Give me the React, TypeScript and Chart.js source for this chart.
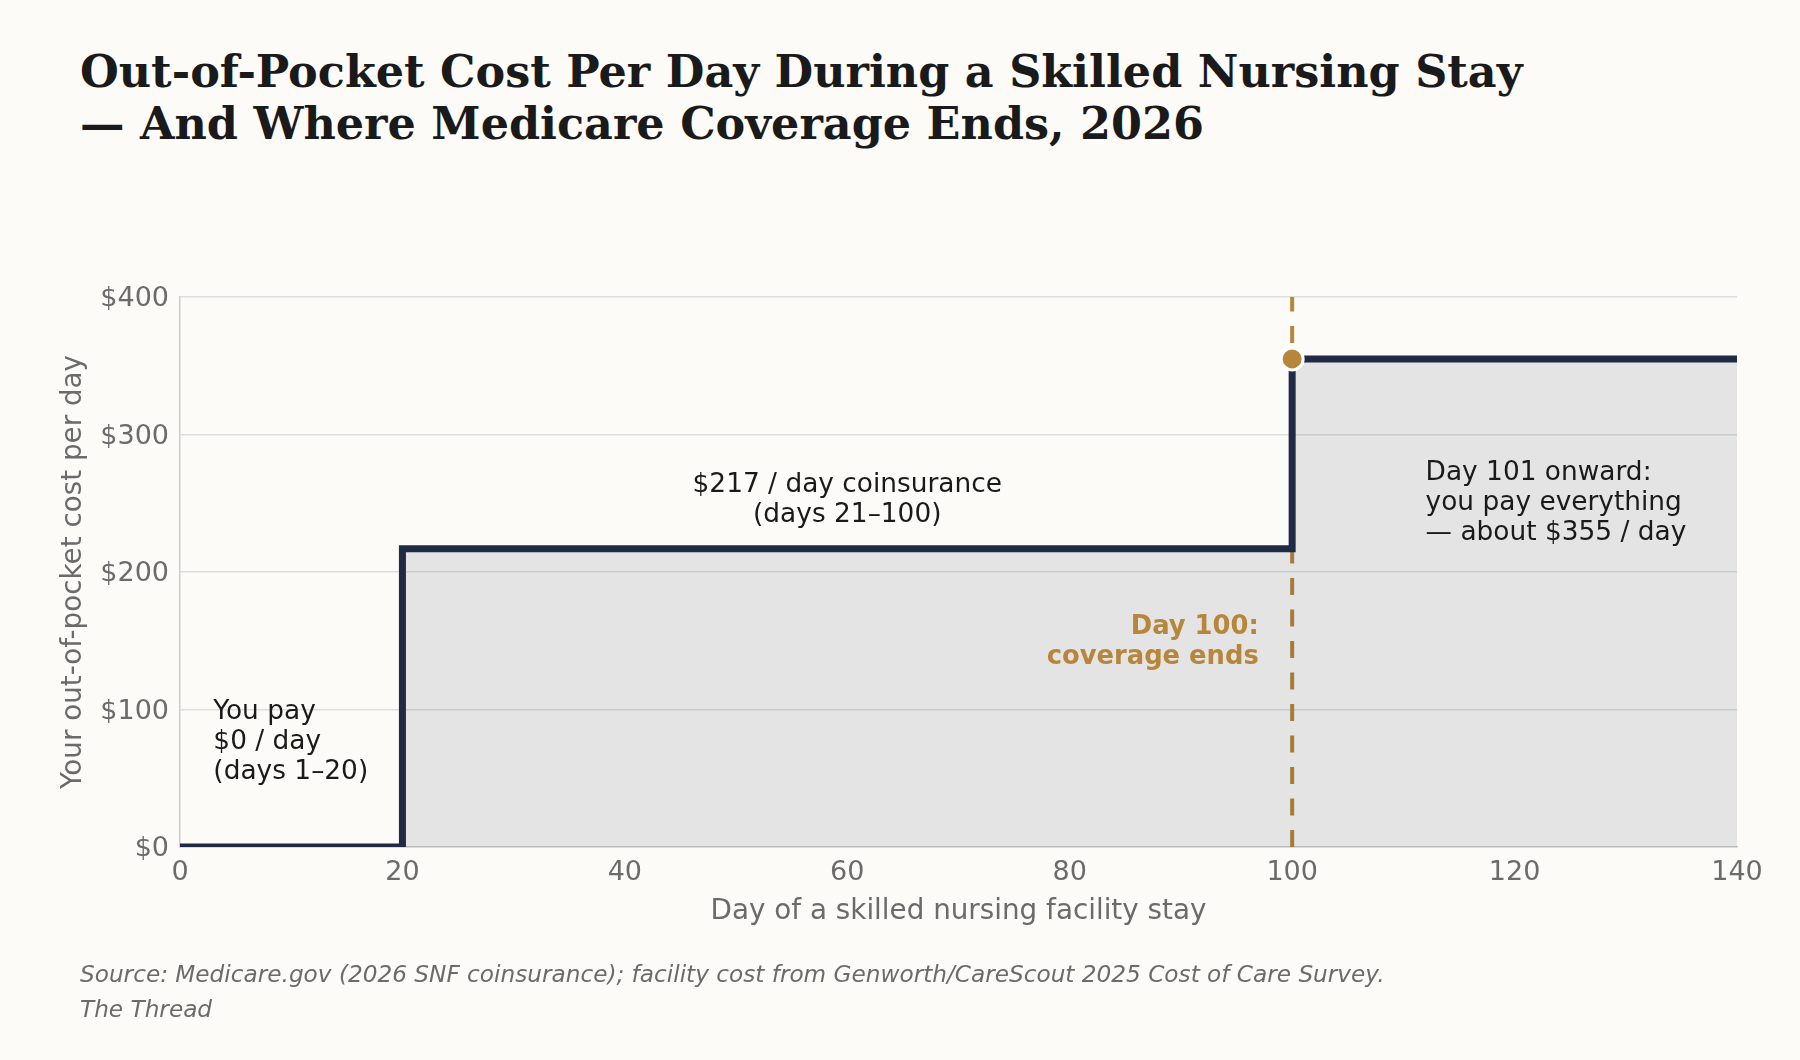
import { useEffect, useRef } from "react"
import { Chart, registerables } from "chart.js"

Chart.register(...registerables)

// step points: the cost changes at each listed day
const dayBreaks = [0, 20, 100, 140]
const costPerDay = [0, 217, 355, 355]
const coverageEndDay = 100
const coverageEndCost = 355
const xTicks = [0, 20, 40, 60, 80, 100, 120, 140]
const yTicks = [0, 100, 200, 300, 400]

const notes = [
  { day: 3, cost: 78, align: "left", lines: ["You pay", "$0 / day", "(days 1–20)"], color: "#1a1a1a", bold: false },
  { day: 60, cost: 254, align: "center", lines: ["$217 / day coinsurance", "(days 21–100)"], color: "#1a1a1a", bold: false },
  { day: 97, cost: 151, align: "right", lines: ["Day 100:", "coverage ends"], color: "#b8863b", bold: true },
  { day: 112, cost: 252, align: "left", lines: ["Day 101 onward:", "you pay everything", "— about $355 / day"], color: "#1a1a1a", bold: false },
]

const NAVY = "#1f2a44"
const GOLD = "#b8863b"
const BG = "#fcfbf8"
const FONT = "'DejaVu Sans', sans-serif"

const coverageLine = {
  id: "coverageLine",
  beforeDatasetsDraw(chart: any) {
    const { ctx, chartArea, scales } = chart
    const x = scales.x.getPixelForValue(coverageEndDay)
    ctx.save()
    ctx.strokeStyle = GOLD
    ctx.lineWidth = 4
    ctx.setLineDash([17, 14.5])
    ctx.beginPath()
    ctx.moveTo(x, chartArea.bottom)
    ctx.lineTo(x, chartArea.top)
    ctx.stroke()
    ctx.restore()
  },
}

const noteLabels = {
  id: "noteLabels",
  afterDatasetsDraw(chart: any) {
    const { ctx, scales } = chart
    ctx.save()
    notes.forEach((n) => {
      const x = scales.x.getPixelForValue(n.day)
      const yc = scales.y.getPixelForValue(n.cost)
      ctx.font = n.bold ? `bold 25.8px ${FONT}` : `26.4px ${FONT}`
      ctx.fillStyle = n.color
      ctx.textAlign = n.align
      ctx.textBaseline = "alphabetic"
      n.lines.forEach((line, i) => {
        const y = yc + (i - (n.lines.length - 1) / 2) * 30 + 9.5
        ctx.fillText(line, x, y)
      })
    })
    ctx.restore()
  },
}

export default function App() {
  const canvasRef = useRef<HTMLCanvasElement>(null)

  useEffect(() => {
    if (!canvasRef.current) return
    const steps = dayBreaks.map((d, i) => ({ x: d, y: costPerDay[i] }))

    const chart = new Chart(canvasRef.current, {
      type: "line",
      data: {
        datasets: [
          {
            label: "Coverage ends",
            data: [{ x: coverageEndDay, y: coverageEndCost }],
            showLine: false,
            pointRadius: 11,
            pointBackgroundColor: GOLD,
            pointBorderColor: "#ffffff",
            pointBorderWidth: 3,
            clip: false,
            order: 0,
          },
          {
            label: "Out-of-pocket cost per day",
            data: steps,
            stepped: "before",
            borderColor: NAVY,
            borderWidth: 7,
            pointRadius: 0,
            fill: "origin",
            backgroundColor: "rgba(31, 42, 68, 0.11)",
            clip: 0,
            order: 1,
          },
        ],
      },
      options: {
        responsive: true,
        maintainAspectRatio: false,
        animation: false,
        events: [],
        layout: { padding: { left: 0, right: 63, top: 297, bottom: 129.6 } },
        plugins: { legend: { display: false }, tooltip: { enabled: false } },
        scales: {
          x: {
            type: "linear",
            min: 0,
            max: 140,
            afterFit: (s: any) => { s.height = 83.4 },
            afterBuildTicks: (s: any) => { s.ticks = xTicks.map((v) => ({ value: v })) },
            grid: { display: false, drawTicks: false },
            border: { display: true, color: "#cccccc", width: 1.5 },
            ticks: { padding: 10, color: "#6b6b6b", font: { family: FONT, size: 27 } },
            title: {
              display: true,
              text: "Day of a skilled nursing facility stay",
              color: "#6b6b6b",
              font: { family: FONT, size: 27.8 },
              padding: { top: 0, bottom: 2 },
            },
          },
          y: {
            min: 0,
            max: 400,
            afterFit: (s: any) => { s.width = 180 },
            afterBuildTicks: (s: any) => { s.ticks = yTicks.map((v) => ({ value: v })) },
            grid: { color: "#dedede", lineWidth: 1.5, drawTicks: false },
            border: { display: true, color: "#cccccc", width: 1.5 },
            ticks: {
              padding: 11,
              labelOffset: 2,
              color: "#6b6b6b",
              font: { family: FONT, size: 27 },
              callback: (v: any) => `$${v}`,
            },
            title: {
              display: true,
              text: "Your out-of-pocket cost per day",
              color: "#6b6b6b",
              font: { family: FONT, size: 27.8 },
              padding: { top: 57, bottom: 0 },
            },
          },
        },
      },
      plugins: [coverageLine, noteLabels],
    })

    return () => chart.destroy()
  }, [])

  return (
    <div style={{ position: "absolute", left: 0, top: 0, width: 1800, height: 1060, background: BG, overflow: "hidden" }}>
      <div
        style={{
          position: "absolute",
          left: 80,
          top: 45,
          fontFamily: "'DejaVu Serif', serif",
          fontWeight: "bold",
          fontSize: 44.5,
          lineHeight: "52px",
          color: "#1a1a1a",
          whiteSpace: "nowrap",
        }}
      >
        Out-of-Pocket Cost Per Day During a Skilled Nursing Stay
        <br />— And Where Medicare Coverage Ends, 2026
      </div>
      <div style={{ position: "absolute", left: 0, top: 0, width: 1800, height: 1060 }}>
        <canvas ref={canvasRef} />
      </div>
      <div
        style={{
          position: "absolute",
          left: 80,
          top: 956,
          fontFamily: FONT,
          fontStyle: "italic",
          fontSize: 23.2,
          lineHeight: "35px",
          color: "#6b6b6b",
          whiteSpace: "nowrap",
        }}
      >
        Source: Medicare.gov (2026 SNF coinsurance); facility cost from Genworth/CareScout 2025 Cost of Care Survey.
        <br />
        The Thread
      </div>
    </div>
  )
}
